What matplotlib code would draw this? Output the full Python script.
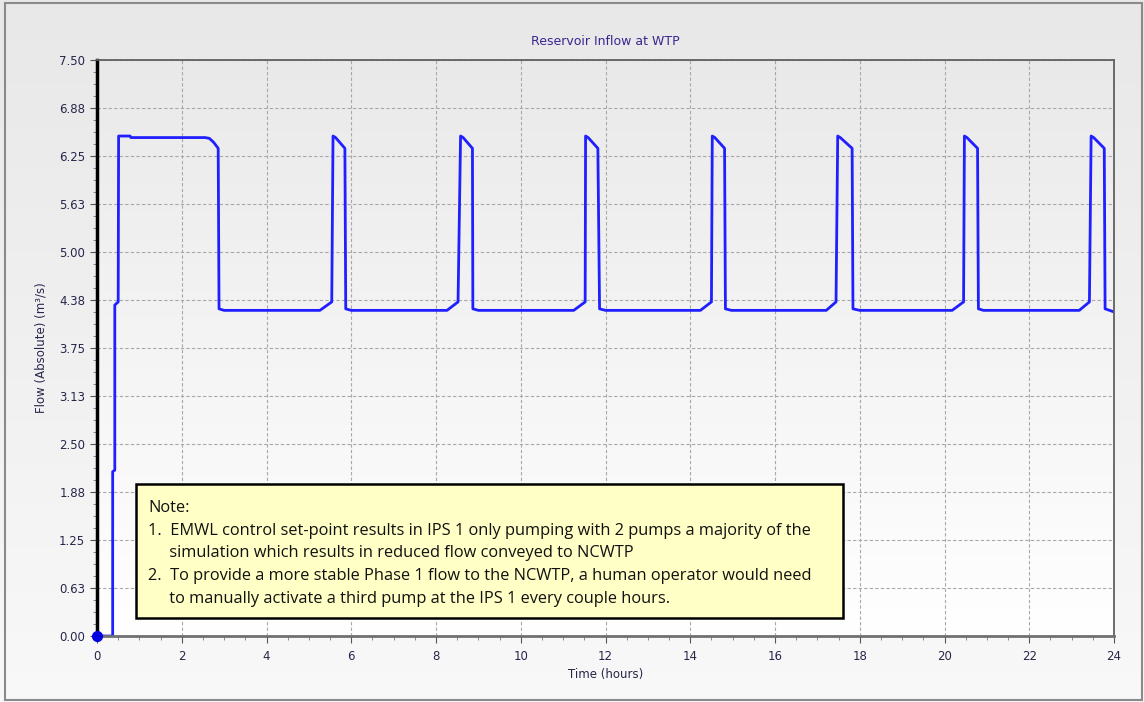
import matplotlib.pyplot as plt
import matplotlib.patches as patches
import numpy as np

# reservoir inflow (m3/s) vs time (hours)
time_h = [0.00, 0.37, 0.37, 0.42, 0.42, 0.50, 0.51, 0.78, 0.80, 2.55, 2.65, 2.75, 2.86, 2.88, 3.00,
          5.26, 5.54, 5.57, 5.63, 5.85, 5.87, 6.00,
          8.26, 8.52, 8.58, 8.64, 8.86, 8.87, 9.00,
          11.25, 11.52, 11.53, 11.59, 11.82, 11.86, 12.00,
          14.24, 14.50, 14.52, 14.58, 14.81, 14.83, 14.97,
          17.21, 17.44, 17.48, 17.54, 17.82, 17.84, 18.00,
          20.18, 20.45, 20.47, 20.53, 20.78, 20.80, 20.92,
          23.18, 23.42, 23.46, 23.52, 23.77, 23.79, 24.00]
flow = [0.00, 0.00, 2.14, 2.16, 4.31, 4.35, 6.51, 6.51, 6.49, 6.49, 6.48, 6.43, 6.35, 4.26, 4.24,
        4.24, 4.35, 6.51, 6.49, 6.35, 4.26, 4.24,
        4.24, 4.35, 6.51, 6.49, 6.35, 4.26, 4.24,
        4.24, 4.35, 6.51, 6.49, 6.35, 4.26, 4.24,
        4.24, 4.35, 6.51, 6.49, 6.35, 4.26, 4.24,
        4.24, 4.35, 6.51, 6.49, 6.35, 4.26, 4.24,
        4.24, 4.35, 6.51, 6.49, 6.35, 4.26, 4.24,
        4.24, 4.35, 6.51, 6.49, 6.35, 4.26, 4.22]

y_ticks = [0.0, 0.625, 1.25, 1.875, 2.5, 3.125, 3.75, 4.375, 5.0, 5.625, 6.25, 6.875, 7.5]
y_labels = ["0.00", "0.63", "1.25", "1.88", "2.50", "3.13", "3.75", "4.38", "5.00", "5.63", "6.25", "6.88", "7.50"]
x_ticks = [0, 2, 4, 6, 8, 10, 12, 14, 16, 18, 20, 22, 24]

note_lines = [
    "Note:",
    "1.  EMWL control set-point results in IPS 1 only pumping with 2 pumps a majority of the",
    "     simulation which results in reduced flow conveyed to NCWTP",
    "2.  To provide a more stable Phase 1 flow to the NCWTP, a human operator would need",
    "     to manually activate a third pump at the IPS 1 every couple hours.",
]

W, H = 1144, 702
fig = plt.figure(figsize=(W / 100, H / 100), dpi=100)

# background gradient for whole figure
bg = fig.add_axes([0, 0, 1, 1])
grad = np.linspace(0.91, 0.975, 256).reshape(-1, 1)
bg.imshow(np.dstack([grad, grad, grad]), aspect="auto", extent=[0, 1, 0, 1], origin="upper")
bg.add_patch(patches.Rectangle((5 / W, 2 / H), 1137 / W, 697 / H, fill=False,
                               edgecolor="#8a8a8a", linewidth=1.5))
bg.set_xlim(0, 1)
bg.set_ylim(0, 1)
bg.axis("off")

ax = fig.add_axes([97 / W, 1 - 636 / H, (1114 - 97) / W, (636 - 60) / H])
pgrad = np.linspace(0.915, 1.0, 256).reshape(-1, 1)
ax.imshow(np.dstack([pgrad, pgrad, pgrad]), aspect="auto", extent=[0, 24, 0, 7.5],
          origin="upper", zorder=0)

ax.plot(time_h, flow, color="#1f1fff", linewidth=2.0, zorder=3, solid_joinstyle="round")
ax.plot([time_h[0]], [flow[0]], "o", color="#0000e0", markersize=7, zorder=8, clip_on=False)

ax.set_xlim(0, 24)
ax.set_ylim(0, 7.5)
ax.set_xticks(x_ticks)
ax.set_xticks(np.arange(0, 24.01, 0.5), minor=True)
ax.set_yticks(y_ticks)
ax.set_yticklabels(y_labels)
ax.set_yticks(np.arange(0, 7.51, 0.15625), minor=True)
ax.set_axisbelow(True)
ax.grid(True, which="major", linestyle=(0, (3, 2)), color="#a8a8a8", linewidth=0.8, zorder=1)

tick_col = "#26264a"
ax.tick_params(axis="both", which="major", labelsize=8.5, colors="#555555", labelcolor=tick_col,
               length=5, width=0.8)
ax.tick_params(axis="x", which="major", pad=5)
ax.tick_params(axis="both", which="minor", colors="#777777", length=3, width=0.6)

for side in ["left", "bottom", "top", "right"]:
    ax.spines[side].set_zorder(5)
ax.spines["left"].set_color("black")
ax.spines["left"].set_linewidth(2.5)
ax.spines["bottom"].set_color("#707070")
ax.spines["bottom"].set_linewidth(2.0)
ax.spines["top"].set_color("#606060")
ax.spines["top"].set_linewidth(1.3)
ax.spines["right"].set_color("#606060")
ax.spines["right"].set_linewidth(1.3)

ax.set_title("Reservoir Inflow at WTP", fontsize=9, color="#3c2490", pad=11)
ax.set_xlabel("Time (hours)", fontsize=8.5, color=tick_col, labelpad=4)
ax.set_ylabel("Flow (Absolute) (m³/s)", fontsize=8.5, color=tick_col, labelpad=8)

# note box
ax.add_patch(patches.Rectangle((136 / W, 1 - 618 / H), (843 - 136) / W, (618 - 484) / H,
                               transform=fig.transFigure, facecolor="#ffffc6",
                               edgecolor="black", linewidth=1.8, zorder=6))
for i, line in enumerate(note_lines):
    fig.text(148 / W, 1 - (508 + i * 22.7) / H, line, fontsize=11.8, family="Open Sans",
             color="#111111", va="center", ha="left", zorder=7)

fig.savefig("out.png", dpi=100)
